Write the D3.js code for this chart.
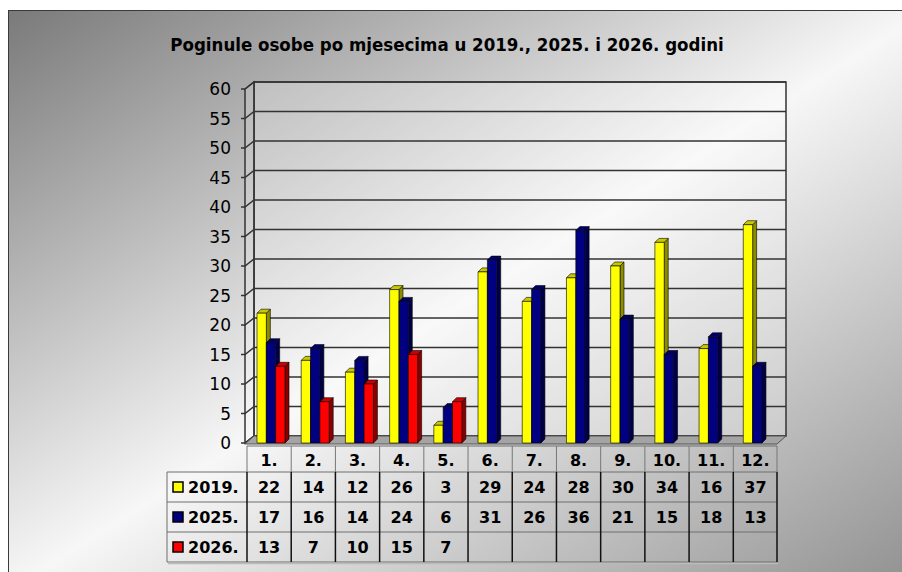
<html>
  <head>
    <title>Poginule osobe</title>
    <style type="text/css">
body { margin: 0; background: white; }
text { font-family: "DejaVu Sans", sans-serif; fill: black; }
.bold { font-weight: bold; }
    </style>
    <script type="text/javascript" src="https://cdn.jsdelivr.net/npm/d3@7"></script>
  </head>
  <body>
    <div id="chart"></div>
    <script type="text/javascript">
      // Data
      var months = ["1.", "2.", "3.", "4.", "5.", "6.", "7.", "8.", "9.", "10.", "11.", "12."];
      var seriesNames = ["2019.", "2025.", "2026."];
      var v2019 = [22, 14, 12, 26, 3, 29, 24, 28, 30, 34, 16, 37];
      var v2025 = [17, 16, 14, 24, 6, 31, 26, 36, 21, 15, 18, 13];
      var v2026 = [13, 7, 10, 15, 7, null, null, null, null, null, null, null];
      var yTicks = [0, 5, 10, 15, 20, 25, 30, 35, 40, 45, 50, 55, 60];
      var title = "Poginule osobe po mjesecima u 2019., 2025. i 2026. godini";

      var seriesValues = [v2019, v2025, v2026];
      var colors = [
        { front: "#ffff00", top: "#c8c800", side: "#8c8c00" },
        { front: "#000080", top: "#000066", side: "#00004a" },
        { front: "#ff0000", top: "#cc0000", side: "#8a0000" }
      ];

      // Constants
      var w = 902, h = 572;
      var wallDx = 9, wallDy = -7;    // depth of the walls
      var barDx = 4, barDy = -4;      // depth of the bars

      var svg = d3.select("#chart").append("svg")
          .attr("width", w)
          .attr("height", h);

      var defs = svg.append("defs");
      var bg = defs.append("linearGradient")
          .attr("id", "bg")
          .attr("x1", 0).attr("y1", 0).attr("x2", 1).attr("y2", 1);
      bg.append("stop").attr("offset", 0).attr("stop-color", "#7a7a7a");
      bg.append("stop").attr("offset", 0.5).attr("stop-color", "#f7f7f7");
      bg.append("stop").attr("offset", 1).attr("stop-color", "#8e8e8e");

      // background + frame
      svg.append("rect")
          .attr("x", 8.5).attr("y", 10.5)
          .attr("width", 920).attr("height", 580)
          .attr("fill", "url(#bg)")
          .attr("stroke", "#3a3a3a")
          .attr("stroke-width", 1);

      svg.append("text")
          .attr("class", "bold")
          .attr("x", 447).attr("y", 51)
          .attr("text-anchor", "middle")
          .style("font-family", "'DejaVu Sans Condensed', 'DejaVu Sans', sans-serif")
          .style("font-size", "18.5px")
          .text(title);

      // Scales
      var x = d3.scaleBand().domain(months).range([247, 777.5]);
      var xs = d3.scaleBand().domain(seriesNames).range([10, 38]);
      var y = d3.scaleLinear().domain([0, 60]).range([443, 89]);

      var x0 = 245, x1 = 777;

      // back wall + left wall
      svg.append("rect")
          .attr("x", x0 + wallDx).attr("y", y(60) + wallDy)
          .attr("width", x1 - x0).attr("height", y(0) - y(60))
          .attr("fill", "white").attr("fill-opacity", 0.25)
          .attr("stroke", "#333").attr("stroke-width", 1.5);
      svg.append("path")
          .attr("d", "M" + x0 + "," + y(0) + "L" + x0 + "," + y(60) +
                     "L" + (x0 + wallDx) + "," + (y(60) + wallDy) +
                     "L" + (x0 + wallDx) + "," + (y(0) + wallDy) + "Z")
          .attr("fill", "white").attr("fill-opacity", 0.15)
          .attr("stroke", "#333").attr("stroke-width", 1.5);

      // gridlines
      var grid = svg.append("g").attr("stroke", "#333").attr("stroke-width", 1.5).attr("fill", "none");
      yTicks.forEach(function(t) {
        grid.append("path")
            .attr("d", "M" + (x0 - 4) + "," + y(t) + "L" + x0 + "," + y(t) +
                       "L" + (x0 + wallDx) + "," + (y(t) + wallDy) +
                       "L" + (x1 + wallDx) + "," + (y(t) + wallDy));
      });

      // y labels
      svg.append("g").selectAll("text")
          .data(yTicks)
          .enter().append("text")
          .attr("x", 231)
          .attr("y", function(d) { return y(d); })
          .attr("dy", "0.36em")
          .attr("text-anchor", "end")
          .style("font-size", "17px")
          .text(function(d) { return d; });

      // floor
      svg.append("path")
          .attr("d", "M" + x0 + "," + (y(0) + 1) + "L" + x1 + "," + (y(0) + 1) +
                     "L" + (x1 + wallDx) + "," + (y(0) + wallDy) +
                     "L" + (x0 + wallDx) + "," + (y(0) + wallDy) + "Z")
          .attr("fill", "#a4a4a4")
          .attr("stroke", "#555").attr("stroke-width", 1);

      // bars
      var bars = svg.append("g").attr("stroke", "black").attr("stroke-width", 0.6).attr("stroke-linejoin", "round");
      months.forEach(function(m, i) {
        seriesNames.forEach(function(s, j) {
          var v = seriesValues[j][i];
          if (v === null) return;
          var bx = x(m) + xs(s), bw = xs.bandwidth();
          var by = y(v), bb = y(0);
          var c = colors[j];
          bars.append("path")
              .attr("d", "M" + (bx + bw) + "," + bb + "L" + (bx + bw + barDx) + "," + (bb + barDy) +
                         "L" + (bx + bw + barDx) + "," + (by + barDy) + "L" + (bx + bw) + "," + by + "Z")
              .attr("fill", c.side);
          bars.append("path")
              .attr("d", "M" + bx + "," + by + "L" + (bx + barDx) + "," + (by + barDy) +
                         "L" + (bx + bw + barDx) + "," + (by + barDy) + "L" + (bx + bw) + "," + by + "Z")
              .attr("fill", c.top);
          bars.append("rect")
              .attr("x", bx).attr("y", by)
              .attr("width", bw).attr("height", bb - by)
              .attr("fill", c.front);
        });
      });

      // data table
      var rowTop = 446, headH = 26, rowH = 30, legX = 167;
      var table = svg.append("g");
      var rowY = function(r) { return rowTop + headH + r * rowH; };

      // header cells
      table.selectAll(".head")
          .data(months)
          .enter().append("text")
          .attr("class", "bold")
          .attr("x", function(d) { return x(d) + x.bandwidth() / 2; })
          .attr("y", rowTop + 20)
          .attr("text-anchor", "middle")
          .style("font-size", "16px")
          .text(function(d) { return d; });

      // horizontal lines
      var hl = table.append("g").attr("stroke", "#6e6e6e").attr("stroke-width", 1);
      hl.append("line").attr("x1", x(months[0])).attr("x2", x1).attr("y1", rowTop).attr("y2", rowTop);
      [0, 1, 2, 3].forEach(function(r) {
        hl.append("line").attr("x1", legX).attr("x2", x1).attr("y1", rowY(r)).attr("y2", rowY(r));
      });
      hl.append("line").attr("x1", legX).attr("x2", legX).attr("y1", rowY(0)).attr("y2", rowY(3));
      table.append("line")
          .attr("x1", legX + 1).attr("x2", x1 + 1).attr("y1", rowY(3) + 1.5).attr("y2", rowY(3) + 1.5)
          .attr("stroke", "#bbb").attr("stroke-width", 1.5);

      // vertical lines
      var bounds = months.map(function(m) { return x(m); }).concat([x1]);
      bounds.forEach(function(bx) {
        table.append("line")
            .attr("x1", bx).attr("x2", bx).attr("y1", rowTop).attr("y2", rowY(0))
            .attr("stroke", "#777").attr("stroke-width", 1);
        table.append("line")
            .attr("x1", bx).attr("x2", bx).attr("y1", rowY(0)).attr("y2", rowY(3))
            .attr("stroke", "#111").attr("stroke-width", 1.5);
      });

      // legend + values
      seriesNames.forEach(function(s, j) {
        var cy = rowY(j) + rowH / 2;
        table.append("rect")
            .attr("x", 173).attr("y", cy - 5)
            .attr("width", 10).attr("height", 10)
            .attr("fill", colors[j].front)
            .attr("stroke", "black").attr("stroke-width", 1.5);
        table.append("text")
            .attr("class", "bold")
            .attr("x", 188).attr("y", cy)
            .attr("dy", "0.36em")
            .style("font-size", "16px")
            .text(s);
        months.forEach(function(m, i) {
          var v = seriesValues[j][i];
          if (v === null) return;
          table.append("text")
              .attr("class", "bold")
              .attr("x", x(m) + x.bandwidth() / 2)
              .attr("y", cy)
              .attr("dy", "0.36em")
              .attr("text-anchor", "middle")
              .style("font-size", "16px")
              .text(v);
        });
      });
    </script>
  </body>
</html>
